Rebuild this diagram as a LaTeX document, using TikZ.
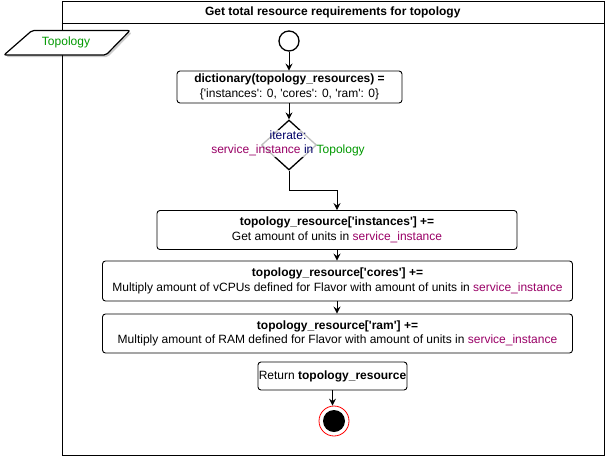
\documentclass[tikz,border=0pt]{standalone}
\usepackage{fontspec}
\setmainfont{Liberation Sans}
\usetikzlibrary{shapes.geometric,arrows.meta}
\definecolor{svc}{HTML}{990066}
\definecolor{topo}{HTML}{009900}
\definecolor{itr}{HTML}{000066}
\newcommand\sq{\textquotesingle}
\begin{document}
\begin{tikzpicture}[x=1pt,y=-1pt,
  font=\fontsize{12}{14.5}\selectfont,
  box/.style={draw, rounded corners=3pt, line width=0.9pt, align=center, inner sep=0pt},
  arr/.style={-{Stealth[length=7pt,width=7pt,inset=2.5pt]}, line width=1pt}]
\useasboundingbox (0,0) rectangle (606,459);
% frame
\node[draw, line width=1pt, minimum width=542.5pt, minimum height=454pt, anchor=north west, inner sep=0pt] (frame) at (61.5,1) {};
\draw[line width=1pt] (61.5,23) -- (604,23);
\node[font=\fontsize{12}{14.5}\selectfont\bfseries] (title) at (332.75,12) {Get total resource requirements for topology};
% parameter parallelogram
\fill[black, opacity=0.2, rounded corners=2pt] (34,32.5) -- (132,32.5) -- (108,57) -- (6,57) -- cycle;
\draw[fill=white, line width=1.2pt, rounded corners=2pt] (32,30.5) -- (130,30.5) -- (106,55) -- (4,55) -- cycle;
\node[text=topo] (topo) at (66,42) {Topology};
% start
\node[circle, draw, line width=1.3pt, minimum size=20pt, inner sep=0pt] (start) at (289,41) {};
% boxes
\node[box, minimum width=225pt, minimum height=32pt] (b1) at (289.5,87) {\textbf{dictionary(topology\_resources) =}\\\{\sq instances\sq: 0, \sq cores\sq: 0, \sq ram\sq: 0\}};
\node[diamond, draw, line width=1.3pt, minimum width=55pt, minimum height=50pt, inner sep=0pt] (iter) at (289,145) {};
\node[fill=white, fill opacity=0.75, text opacity=1, inner sep=1pt, align=center] (itertext) at (288,143.5) {\color{itr}iterate:\\\color{svc}service\_instance \color{itr}in \color{topo}Topology};
\node[box, minimum width=360pt, minimum height=39pt] (b2) at (337,230) {\textbf{topology\_resource[\sq instances\sq] +=}\\Get amount of units in \textcolor{svc}{service\_instance}};
\node[box, minimum width=470pt, minimum height=40pt] (b3) at (337.5,281) {\textbf{topology\_resource[\sq cores\sq] +=}\\Multiply amount of vCPUs defined for Flavor with amount of units in \textcolor{svc}{service\_instance}};
\node[box, minimum width=470pt, minimum height=39pt] (b4) at (337.5,333.5) {\textbf{topology\_resource[\sq ram\sq] +=}\\Multiply amount of RAM defined for Flavor with amount of units in \textcolor{svc}{service\_instance}};
\node[box, minimum width=149pt, minimum height=28pt] (b5) at (332.5,376) {Return \textbf{topology\_resource}};
% end
\node[circle, draw=red, line width=0.8pt, minimum size=30pt, inner sep=0pt] (endc) at (334,421) {};
\node[circle, fill=black, minimum size=22pt, inner sep=0pt] (endin) at (endc.center) {};
% connectors
\draw[arr] (start.south) -- (start.south |- b1.north);
\draw[arr] (b1.south -| iter.north) -- (iter.north);
\draw[arr] (iter.south) -- ++(0,20) -| (b2.north);
\draw[arr] (b2.south) -- (b2.south |- b3.north);
\draw[arr] (b2.south |- b3.south) -- (b2.south |- b4.north);
\draw[arr] (b5.south) -- (b5.south |- endc.north);
\end{tikzpicture}
\end{document}
